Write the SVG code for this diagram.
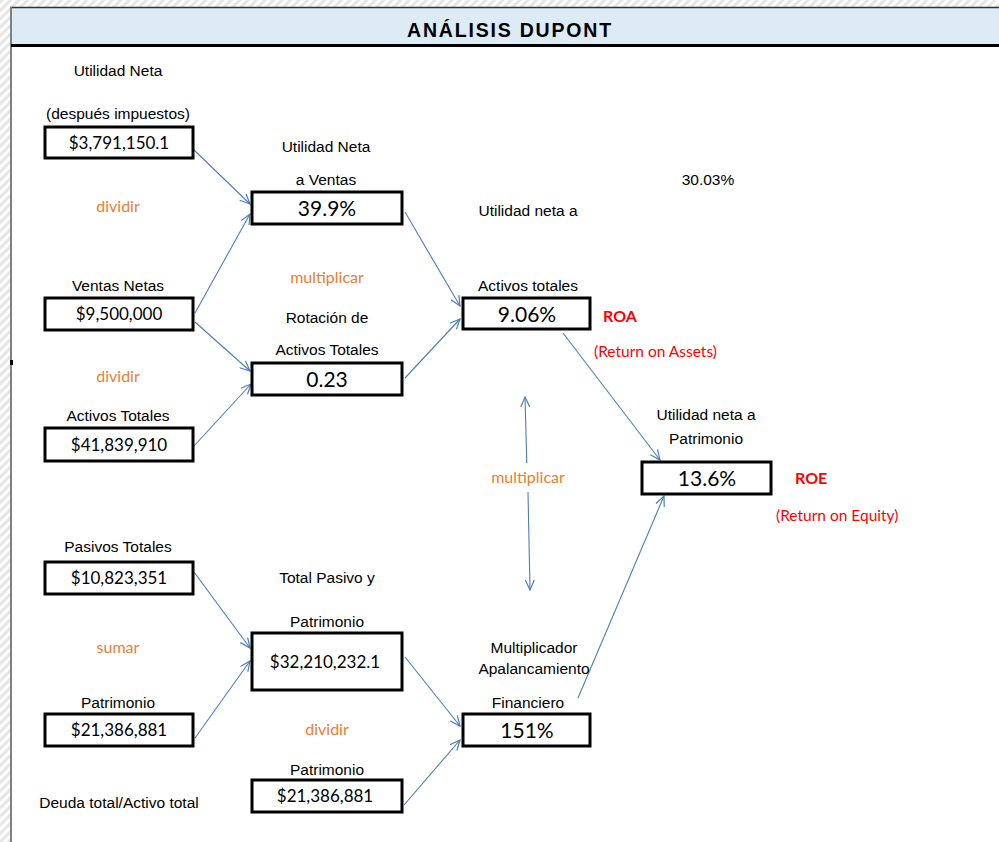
<svg xmlns="http://www.w3.org/2000/svg" width="999" height="842" viewBox="0 0 999 842">
<defs>
<pattern id="hatch" width="6" height="6" patternUnits="userSpaceOnUse" patternTransform="rotate(45)">
<rect width="6" height="6" fill="#ffffff"/>
<rect width="3" height="6" fill="#e6e6e6"/>
</pattern>
<marker id="arr" viewBox="0 0 12 10" refX="11" refY="5" markerWidth="12" markerHeight="10" markerUnits="userSpaceOnUse" orient="auto-start-reverse">
<path d="M1,0.5 L11,5 L1,9.5" fill="none" stroke="#4A7EBB" stroke-width="1.2"/>
</marker>
<style>
.box{fill:#fff;stroke:#000;stroke-width:3}
.lbl{font-family:"Liberation Sans",Arial,sans-serif;font-size:15.5px;fill:#000;text-anchor:middle}
.val{font-family:Lato,"Liberation Sans",sans-serif;font-size:17px;fill:#000;text-anchor:middle}
.big{font-family:Lato,"Liberation Sans",sans-serif;font-size:21px;fill:#000;text-anchor:middle}
.op{font-family:Lato,"Liberation Sans",sans-serif;font-size:16px;fill:#ED7D31;text-anchor:middle}
.red{font-family:Lato,"Liberation Sans",sans-serif;font-size:15.5px;fill:#FF0000}
.redb{font-family:Lato,"Liberation Sans",sans-serif;font-size:16px;font-weight:bold;fill:#FF0000}
.con{fill:none;stroke:#4A7EBB;stroke-width:1.1;marker-end:url(#arr)}
</style>
</defs>
<rect x="0" y="0" width="999" height="842" fill="#ffffff"/>
<rect x="0" y="0" width="999" height="7" fill="url(#hatch)"/>
<rect x="0" y="0" width="10" height="842" fill="url(#hatch)"/>
<g id="header">
<rect x="11" y="7" width="988" height="38" fill="#DDEBF7"/>
<line x1="10" y1="7.5" x2="999" y2="7.5" stroke="#333" stroke-width="1.5"/>
<line x1="11" y1="7" x2="11" y2="842" stroke="#808080" stroke-width="2"/>
<line x1="11" y1="45.5" x2="999" y2="45.5" stroke="#000" stroke-width="3"/>
<rect x="10" y="360" width="3" height="5" fill="#000"/>
<text x="510" y="37" font-family="Liberation Sans,Arial,sans-serif" font-size="19.5" font-weight="bold" letter-spacing="1.8" text-anchor="middle">ANÁLISIS DUPONT</text>
</g>
<g id="connectors">
<line class="con" x1="194" y1="150" x2="250" y2="204"/>
<line class="con" x1="195" y1="313" x2="250" y2="214"/>
<line class="con" x1="195" y1="322" x2="250" y2="371"/>
<line class="con" x1="194" y1="446" x2="251" y2="384"/>
<line class="con" x1="405" y1="212" x2="460" y2="306"/>
<line class="con" x1="405" y1="378" x2="460" y2="319"/>
<line class="con" x1="563" y1="333" x2="660" y2="460"/>
<line class="con" x1="578" y1="698" x2="664" y2="496"/>
<line class="con" x1="194" y1="572" x2="250" y2="648"/>
<line class="con" x1="195" y1="738" x2="250" y2="661"/>
<line class="con" x1="405" y1="657" x2="460" y2="726"/>
<line class="con" x1="404" y1="805" x2="460" y2="740"/>
<line fill="none" stroke="#4A7EBB" stroke-width="1.1" marker-start="url(#arr)" x1="525" y1="397" x2="526.8" y2="463"/>
<line fill="none" stroke="#4A7EBB" stroke-width="1.1" marker-end="url(#arr)" x1="528" y1="492" x2="530" y2="590"/>
</g>
<g id="n-utilidad-neta">
<text class="lbl" x="118" y="76">Utilidad Neta</text>
<text class="lbl" x="118" y="119">(después impuestos)</text>
<rect class="box" x="45" y="127" width="148" height="31"/>
<text class="val" x="119" y="149">$3,791,150.1</text>
</g>
<text class="op" x="118" y="212">dividir</text>
<g id="n-ventas-netas">
<text class="lbl" x="118" y="291">Ventas Netas</text>
<rect class="box" x="45" y="298" width="148" height="32"/>
<text class="val" x="119" y="320">$9,500,000</text>
</g>
<text class="op" x="118" y="382">dividir</text>
<g id="n-activos-totales">
<text class="lbl" x="118" y="421">Activos Totales</text>
<rect class="box" x="45" y="428" width="148" height="33"/>
<text class="val" x="119" y="451">$41,839,910</text>
</g>
<g id="n-margen">
<text class="lbl" x="326" y="152">Utilidad Neta</text>
<text class="lbl" x="326" y="185">a Ventas</text>
<rect class="box" x="252" y="192" width="150" height="32"/>
<text class="big" x="327" y="216">39.9%</text>
</g>
<text class="op" x="327" y="283">multiplicar</text>
<g id="n-rotacion">
<text class="lbl" x="327" y="323">Rotación de</text>
<text class="lbl" x="327" y="355">Activos Totales</text>
<rect class="box" x="252" y="363" width="150" height="32"/>
<text class="big" x="327" y="387">0.23</text>
</g>
<text class="lbl" x="708" y="185">30.03%</text>
<g id="n-roa">
<text class="lbl" x="528" y="216">Utilidad neta a</text>
<text class="lbl" x="528" y="291">Activos totales</text>
<rect class="box" x="463" y="298" width="127" height="31"/>
<text class="big" x="527" y="322">9.06%</text>
<text class="redb" x="603" y="322">ROA</text>
<text class="red" x="594" y="357">(Return on Assets)</text>
</g>
<text class="op" x="528" y="483">multiplicar</text>
<g id="n-roe">
<text class="lbl" x="706" y="420">Utilidad neta a</text>
<text class="lbl" x="706" y="444">Patrimonio</text>
<rect class="box" x="642" y="462" width="129" height="32"/>
<text class="big" x="707" y="486">13.6%</text>
<text class="redb" x="795" y="484">ROE</text>
<text class="red" x="776" y="521">(Return on Equity)</text>
</g>
<g id="n-pasivos">
<text class="lbl" x="118" y="552">Pasivos Totales</text>
<rect class="box" x="45" y="562" width="148" height="32"/>
<text class="val" x="119" y="584">$10,823,351</text>
</g>
<text class="op" x="118" y="653">sumar</text>
<g id="n-patrimonio">
<text class="lbl" x="118" y="708">Patrimonio</text>
<rect class="box" x="45" y="714" width="148" height="32"/>
<text class="val" x="119" y="736">$21,386,881</text>
</g>
<text class="lbl" x="119" y="808">Deuda total/Activo total</text>
<g id="n-total-pasivo-patrimonio">
<text class="lbl" x="327" y="583">Total Pasivo y</text>
<text class="lbl" x="327" y="627">Patrimonio</text>
<rect class="box" x="252" y="633" width="150" height="57"/>
<text class="val" x="325" y="668">$32,210,232.1</text>
</g>
<text class="op" x="327" y="735">dividir</text>
<g id="n-patrimonio2">
<text class="lbl" x="327" y="775">Patrimonio</text>
<rect class="box" x="252" y="780" width="150" height="32"/>
<text class="val" x="325" y="802">$21,386,881</text>
</g>
<g id="n-multiplicador">
<text class="lbl" x="534" y="653">Multiplicador</text>
<text class="lbl" x="534" y="674">Apalancamiento</text>
<text class="lbl" x="528" y="708">Financiero</text>
<rect class="box" x="463" y="714" width="127" height="32"/>
<text class="big" x="527" y="738">151%</text>
</g>
</svg>
